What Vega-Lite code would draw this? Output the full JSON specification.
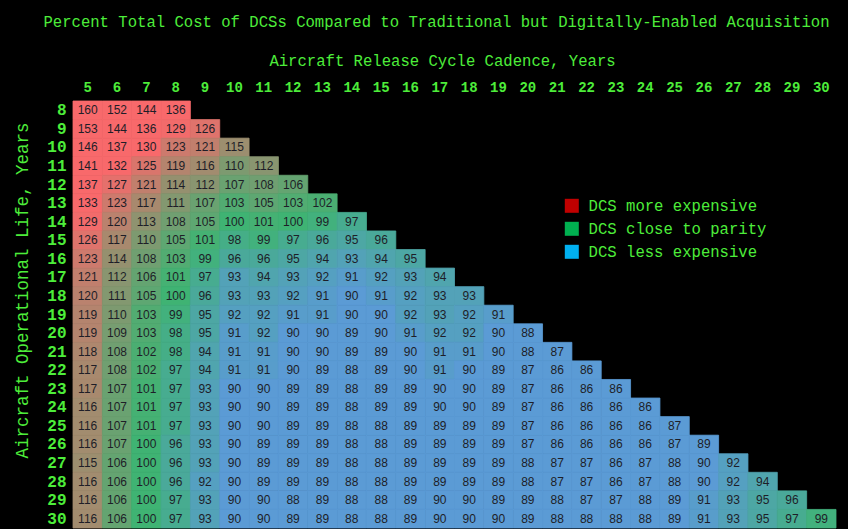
{
  "$schema": "https://vega.github.io/schema/vega-lite/v6.json",
  "width": 763,
  "height": 427,
  "autosize": "none",
  "padding": {"left": 73, "top": 101, "right": 12, "bottom": 1},
  "background": "#000000",
  "title": {
    "text": "Percent Total Cost of DCSs Compared to Traditional but Digitally-Enabled Acquisition",
    "font": "Liberation Mono",
    "fontSize": 15.6,
    "fontWeight": "normal",
    "color": "#4ded3a",
    "anchor": "middle",
    "frame": "group",
    "dx": -18,
    "offset": 22
  },
  "config": {
    "view": {"stroke": null},
    "axis": {"grid": false, "domain": false, "ticks": false}
  },
  "datasets": {
    "legendItems": [
      {"category": "DCS more expensive"},
      {"category": "DCS close to parity"},
      {"category": "DCS less expensive"}
    ]
  },
  "data": {
    "values": [
      {"life": 8, "cad": 5, "pct": 160}, {"life": 8, "cad": 6, "pct": 152}, {"life": 8, "cad": 7, "pct": 144}, {"life": 8, "cad": 8, "pct": 136},
      {"life": 9, "cad": 5, "pct": 153}, {"life": 9, "cad": 6, "pct": 144}, {"life": 9, "cad": 7, "pct": 136}, {"life": 9, "cad": 8, "pct": 129}, {"life": 9, "cad": 9, "pct": 126},
      {"life": 10, "cad": 5, "pct": 146}, {"life": 10, "cad": 6, "pct": 137}, {"life": 10, "cad": 7, "pct": 130}, {"life": 10, "cad": 8, "pct": 123}, {"life": 10, "cad": 9, "pct": 121}, {"life": 10, "cad": 10, "pct": 115},
      {"life": 11, "cad": 5, "pct": 141}, {"life": 11, "cad": 6, "pct": 132}, {"life": 11, "cad": 7, "pct": 125}, {"life": 11, "cad": 8, "pct": 119}, {"life": 11, "cad": 9, "pct": 116}, {"life": 11, "cad": 10, "pct": 110}, {"life": 11, "cad": 11, "pct": 112},
      {"life": 12, "cad": 5, "pct": 137}, {"life": 12, "cad": 6, "pct": 127}, {"life": 12, "cad": 7, "pct": 121}, {"life": 12, "cad": 8, "pct": 114}, {"life": 12, "cad": 9, "pct": 112}, {"life": 12, "cad": 10, "pct": 107}, {"life": 12, "cad": 11, "pct": 108}, {"life": 12, "cad": 12, "pct": 106},
      {"life": 13, "cad": 5, "pct": 133}, {"life": 13, "cad": 6, "pct": 123}, {"life": 13, "cad": 7, "pct": 117}, {"life": 13, "cad": 8, "pct": 111}, {"life": 13, "cad": 9, "pct": 107}, {"life": 13, "cad": 10, "pct": 103}, {"life": 13, "cad": 11, "pct": 105}, {"life": 13, "cad": 12, "pct": 103}, {"life": 13, "cad": 13, "pct": 102},
      {"life": 14, "cad": 5, "pct": 129}, {"life": 14, "cad": 6, "pct": 120}, {"life": 14, "cad": 7, "pct": 113}, {"life": 14, "cad": 8, "pct": 108}, {"life": 14, "cad": 9, "pct": 105}, {"life": 14, "cad": 10, "pct": 100}, {"life": 14, "cad": 11, "pct": 101}, {"life": 14, "cad": 12, "pct": 100}, {"life": 14, "cad": 13, "pct": 99}, {"life": 14, "cad": 14, "pct": 97},
      {"life": 15, "cad": 5, "pct": 126}, {"life": 15, "cad": 6, "pct": 117}, {"life": 15, "cad": 7, "pct": 110}, {"life": 15, "cad": 8, "pct": 105}, {"life": 15, "cad": 9, "pct": 101}, {"life": 15, "cad": 10, "pct": 98}, {"life": 15, "cad": 11, "pct": 99}, {"life": 15, "cad": 12, "pct": 97}, {"life": 15, "cad": 13, "pct": 96}, {"life": 15, "cad": 14, "pct": 95}, {"life": 15, "cad": 15, "pct": 96},
      {"life": 16, "cad": 5, "pct": 123}, {"life": 16, "cad": 6, "pct": 114}, {"life": 16, "cad": 7, "pct": 108}, {"life": 16, "cad": 8, "pct": 103}, {"life": 16, "cad": 9, "pct": 99}, {"life": 16, "cad": 10, "pct": 96}, {"life": 16, "cad": 11, "pct": 96}, {"life": 16, "cad": 12, "pct": 95}, {"life": 16, "cad": 13, "pct": 94}, {"life": 16, "cad": 14, "pct": 93}, {"life": 16, "cad": 15, "pct": 94}, {"life": 16, "cad": 16, "pct": 95},
      {"life": 17, "cad": 5, "pct": 121}, {"life": 17, "cad": 6, "pct": 112}, {"life": 17, "cad": 7, "pct": 106}, {"life": 17, "cad": 8, "pct": 101}, {"life": 17, "cad": 9, "pct": 97}, {"life": 17, "cad": 10, "pct": 93}, {"life": 17, "cad": 11, "pct": 94}, {"life": 17, "cad": 12, "pct": 93}, {"life": 17, "cad": 13, "pct": 92}, {"life": 17, "cad": 14, "pct": 91}, {"life": 17, "cad": 15, "pct": 92}, {"life": 17, "cad": 16, "pct": 93}, {"life": 17, "cad": 17, "pct": 94},
      {"life": 18, "cad": 5, "pct": 120}, {"life": 18, "cad": 6, "pct": 111}, {"life": 18, "cad": 7, "pct": 105}, {"life": 18, "cad": 8, "pct": 100}, {"life": 18, "cad": 9, "pct": 96}, {"life": 18, "cad": 10, "pct": 93}, {"life": 18, "cad": 11, "pct": 93}, {"life": 18, "cad": 12, "pct": 92}, {"life": 18, "cad": 13, "pct": 91}, {"life": 18, "cad": 14, "pct": 90}, {"life": 18, "cad": 15, "pct": 91}, {"life": 18, "cad": 16, "pct": 92}, {"life": 18, "cad": 17, "pct": 93}, {"life": 18, "cad": 18, "pct": 93},
      {"life": 19, "cad": 5, "pct": 119}, {"life": 19, "cad": 6, "pct": 110}, {"life": 19, "cad": 7, "pct": 103}, {"life": 19, "cad": 8, "pct": 99}, {"life": 19, "cad": 9, "pct": 95}, {"life": 19, "cad": 10, "pct": 92}, {"life": 19, "cad": 11, "pct": 92}, {"life": 19, "cad": 12, "pct": 91}, {"life": 19, "cad": 13, "pct": 91}, {"life": 19, "cad": 14, "pct": 90}, {"life": 19, "cad": 15, "pct": 90}, {"life": 19, "cad": 16, "pct": 92}, {"life": 19, "cad": 17, "pct": 93}, {"life": 19, "cad": 18, "pct": 92}, {"life": 19, "cad": 19, "pct": 91},
      {"life": 20, "cad": 5, "pct": 119}, {"life": 20, "cad": 6, "pct": 109}, {"life": 20, "cad": 7, "pct": 103}, {"life": 20, "cad": 8, "pct": 98}, {"life": 20, "cad": 9, "pct": 95}, {"life": 20, "cad": 10, "pct": 91}, {"life": 20, "cad": 11, "pct": 92}, {"life": 20, "cad": 12, "pct": 90}, {"life": 20, "cad": 13, "pct": 90}, {"life": 20, "cad": 14, "pct": 89}, {"life": 20, "cad": 15, "pct": 90}, {"life": 20, "cad": 16, "pct": 91}, {"life": 20, "cad": 17, "pct": 92}, {"life": 20, "cad": 18, "pct": 92}, {"life": 20, "cad": 19, "pct": 90}, {"life": 20, "cad": 20, "pct": 88},
      {"life": 21, "cad": 5, "pct": 118}, {"life": 21, "cad": 6, "pct": 108}, {"life": 21, "cad": 7, "pct": 102}, {"life": 21, "cad": 8, "pct": 98}, {"life": 21, "cad": 9, "pct": 94}, {"life": 21, "cad": 10, "pct": 91}, {"life": 21, "cad": 11, "pct": 91}, {"life": 21, "cad": 12, "pct": 90}, {"life": 21, "cad": 13, "pct": 90}, {"life": 21, "cad": 14, "pct": 89}, {"life": 21, "cad": 15, "pct": 89}, {"life": 21, "cad": 16, "pct": 90}, {"life": 21, "cad": 17, "pct": 91}, {"life": 21, "cad": 18, "pct": 91}, {"life": 21, "cad": 19, "pct": 90}, {"life": 21, "cad": 20, "pct": 88}, {"life": 21, "cad": 21, "pct": 87},
      {"life": 22, "cad": 5, "pct": 117}, {"life": 22, "cad": 6, "pct": 108}, {"life": 22, "cad": 7, "pct": 102}, {"life": 22, "cad": 8, "pct": 97}, {"life": 22, "cad": 9, "pct": 94}, {"life": 22, "cad": 10, "pct": 91}, {"life": 22, "cad": 11, "pct": 91}, {"life": 22, "cad": 12, "pct": 90}, {"life": 22, "cad": 13, "pct": 89}, {"life": 22, "cad": 14, "pct": 88}, {"life": 22, "cad": 15, "pct": 89}, {"life": 22, "cad": 16, "pct": 90}, {"life": 22, "cad": 17, "pct": 91}, {"life": 22, "cad": 18, "pct": 90}, {"life": 22, "cad": 19, "pct": 89}, {"life": 22, "cad": 20, "pct": 87}, {"life": 22, "cad": 21, "pct": 86}, {"life": 22, "cad": 22, "pct": 86},
      {"life": 23, "cad": 5, "pct": 117}, {"life": 23, "cad": 6, "pct": 107}, {"life": 23, "cad": 7, "pct": 101}, {"life": 23, "cad": 8, "pct": 97}, {"life": 23, "cad": 9, "pct": 93}, {"life": 23, "cad": 10, "pct": 90}, {"life": 23, "cad": 11, "pct": 90}, {"life": 23, "cad": 12, "pct": 89}, {"life": 23, "cad": 13, "pct": 89}, {"life": 23, "cad": 14, "pct": 88}, {"life": 23, "cad": 15, "pct": 89}, {"life": 23, "cad": 16, "pct": 89}, {"life": 23, "cad": 17, "pct": 90}, {"life": 23, "cad": 18, "pct": 90}, {"life": 23, "cad": 19, "pct": 89}, {"life": 23, "cad": 20, "pct": 87}, {"life": 23, "cad": 21, "pct": 86}, {"life": 23, "cad": 22, "pct": 86}, {"life": 23, "cad": 23, "pct": 86},
      {"life": 24, "cad": 5, "pct": 116}, {"life": 24, "cad": 6, "pct": 107}, {"life": 24, "cad": 7, "pct": 101}, {"life": 24, "cad": 8, "pct": 97}, {"life": 24, "cad": 9, "pct": 93}, {"life": 24, "cad": 10, "pct": 90}, {"life": 24, "cad": 11, "pct": 90}, {"life": 24, "cad": 12, "pct": 89}, {"life": 24, "cad": 13, "pct": 89}, {"life": 24, "cad": 14, "pct": 88}, {"life": 24, "cad": 15, "pct": 89}, {"life": 24, "cad": 16, "pct": 89}, {"life": 24, "cad": 17, "pct": 90}, {"life": 24, "cad": 18, "pct": 90}, {"life": 24, "cad": 19, "pct": 89}, {"life": 24, "cad": 20, "pct": 87}, {"life": 24, "cad": 21, "pct": 86}, {"life": 24, "cad": 22, "pct": 86}, {"life": 24, "cad": 23, "pct": 86}, {"life": 24, "cad": 24, "pct": 86},
      {"life": 25, "cad": 5, "pct": 116}, {"life": 25, "cad": 6, "pct": 107}, {"life": 25, "cad": 7, "pct": 101}, {"life": 25, "cad": 8, "pct": 97}, {"life": 25, "cad": 9, "pct": 93}, {"life": 25, "cad": 10, "pct": 90}, {"life": 25, "cad": 11, "pct": 90}, {"life": 25, "cad": 12, "pct": 89}, {"life": 25, "cad": 13, "pct": 89}, {"life": 25, "cad": 14, "pct": 88}, {"life": 25, "cad": 15, "pct": 88}, {"life": 25, "cad": 16, "pct": 89}, {"life": 25, "cad": 17, "pct": 89}, {"life": 25, "cad": 18, "pct": 89}, {"life": 25, "cad": 19, "pct": 89}, {"life": 25, "cad": 20, "pct": 87}, {"life": 25, "cad": 21, "pct": 86}, {"life": 25, "cad": 22, "pct": 86}, {"life": 25, "cad": 23, "pct": 86}, {"life": 25, "cad": 24, "pct": 86}, {"life": 25, "cad": 25, "pct": 87},
      {"life": 26, "cad": 5, "pct": 116}, {"life": 26, "cad": 6, "pct": 107}, {"life": 26, "cad": 7, "pct": 100}, {"life": 26, "cad": 8, "pct": 96}, {"life": 26, "cad": 9, "pct": 93}, {"life": 26, "cad": 10, "pct": 90}, {"life": 26, "cad": 11, "pct": 89}, {"life": 26, "cad": 12, "pct": 89}, {"life": 26, "cad": 13, "pct": 89}, {"life": 26, "cad": 14, "pct": 88}, {"life": 26, "cad": 15, "pct": 88}, {"life": 26, "cad": 16, "pct": 89}, {"life": 26, "cad": 17, "pct": 89}, {"life": 26, "cad": 18, "pct": 89}, {"life": 26, "cad": 19, "pct": 89}, {"life": 26, "cad": 20, "pct": 87}, {"life": 26, "cad": 21, "pct": 86}, {"life": 26, "cad": 22, "pct": 86}, {"life": 26, "cad": 23, "pct": 86}, {"life": 26, "cad": 24, "pct": 86}, {"life": 26, "cad": 25, "pct": 87}, {"life": 26, "cad": 26, "pct": 89},
      {"life": 27, "cad": 5, "pct": 115}, {"life": 27, "cad": 6, "pct": 106}, {"life": 27, "cad": 7, "pct": 100}, {"life": 27, "cad": 8, "pct": 96}, {"life": 27, "cad": 9, "pct": 93}, {"life": 27, "cad": 10, "pct": 90}, {"life": 27, "cad": 11, "pct": 89}, {"life": 27, "cad": 12, "pct": 89}, {"life": 27, "cad": 13, "pct": 89}, {"life": 27, "cad": 14, "pct": 88}, {"life": 27, "cad": 15, "pct": 88}, {"life": 27, "cad": 16, "pct": 89}, {"life": 27, "cad": 17, "pct": 89}, {"life": 27, "cad": 18, "pct": 89}, {"life": 27, "cad": 19, "pct": 89}, {"life": 27, "cad": 20, "pct": 88}, {"life": 27, "cad": 21, "pct": 87}, {"life": 27, "cad": 22, "pct": 87}, {"life": 27, "cad": 23, "pct": 86}, {"life": 27, "cad": 24, "pct": 87}, {"life": 27, "cad": 25, "pct": 88}, {"life": 27, "cad": 26, "pct": 90}, {"life": 27, "cad": 27, "pct": 92},
      {"life": 28, "cad": 5, "pct": 116}, {"life": 28, "cad": 6, "pct": 106}, {"life": 28, "cad": 7, "pct": 100}, {"life": 28, "cad": 8, "pct": 96}, {"life": 28, "cad": 9, "pct": 92}, {"life": 28, "cad": 10, "pct": 90}, {"life": 28, "cad": 11, "pct": 89}, {"life": 28, "cad": 12, "pct": 89}, {"life": 28, "cad": 13, "pct": 89}, {"life": 28, "cad": 14, "pct": 88}, {"life": 28, "cad": 15, "pct": 88}, {"life": 28, "cad": 16, "pct": 89}, {"life": 28, "cad": 17, "pct": 89}, {"life": 28, "cad": 18, "pct": 89}, {"life": 28, "cad": 19, "pct": 89}, {"life": 28, "cad": 20, "pct": 88}, {"life": 28, "cad": 21, "pct": 87}, {"life": 28, "cad": 22, "pct": 87}, {"life": 28, "cad": 23, "pct": 86}, {"life": 28, "cad": 24, "pct": 87}, {"life": 28, "cad": 25, "pct": 88}, {"life": 28, "cad": 26, "pct": 90}, {"life": 28, "cad": 27, "pct": 92}, {"life": 28, "cad": 28, "pct": 94},
      {"life": 29, "cad": 5, "pct": 116}, {"life": 29, "cad": 6, "pct": 106}, {"life": 29, "cad": 7, "pct": 100}, {"life": 29, "cad": 8, "pct": 97}, {"life": 29, "cad": 9, "pct": 93}, {"life": 29, "cad": 10, "pct": 90}, {"life": 29, "cad": 11, "pct": 90}, {"life": 29, "cad": 12, "pct": 88}, {"life": 29, "cad": 13, "pct": 89}, {"life": 29, "cad": 14, "pct": 88}, {"life": 29, "cad": 15, "pct": 88}, {"life": 29, "cad": 16, "pct": 89}, {"life": 29, "cad": 17, "pct": 90}, {"life": 29, "cad": 18, "pct": 90}, {"life": 29, "cad": 19, "pct": 89}, {"life": 29, "cad": 20, "pct": 89}, {"life": 29, "cad": 21, "pct": 88}, {"life": 29, "cad": 22, "pct": 87}, {"life": 29, "cad": 23, "pct": 87}, {"life": 29, "cad": 24, "pct": 88}, {"life": 29, "cad": 25, "pct": 89}, {"life": 29, "cad": 26, "pct": 91}, {"life": 29, "cad": 27, "pct": 93}, {"life": 29, "cad": 28, "pct": 95}, {"life": 29, "cad": 29, "pct": 96},
      {"life": 30, "cad": 5, "pct": 116}, {"life": 30, "cad": 6, "pct": 106}, {"life": 30, "cad": 7, "pct": 100}, {"life": 30, "cad": 8, "pct": 97}, {"life": 30, "cad": 9, "pct": 93}, {"life": 30, "cad": 10, "pct": 90}, {"life": 30, "cad": 11, "pct": 90}, {"life": 30, "cad": 12, "pct": 89}, {"life": 30, "cad": 13, "pct": 89}, {"life": 30, "cad": 14, "pct": 88}, {"life": 30, "cad": 15, "pct": 88}, {"life": 30, "cad": 16, "pct": 89}, {"life": 30, "cad": 17, "pct": 90}, {"life": 30, "cad": 18, "pct": 90}, {"life": 30, "cad": 19, "pct": 90}, {"life": 30, "cad": 20, "pct": 89}, {"life": 30, "cad": 21, "pct": 88}, {"life": 30, "cad": 22, "pct": 88}, {"life": 30, "cad": 23, "pct": 88}, {"life": 30, "cad": 24, "pct": 88}, {"life": 30, "cad": 25, "pct": 89}, {"life": 30, "cad": 26, "pct": 91}, {"life": 30, "cad": 27, "pct": 93}, {"life": 30, "cad": 28, "pct": 95}, {"life": 30, "cad": 29, "pct": 97}, {"life": 30, "cad": 30, "pct": 99}
    ]
  },
  "encoding": {
    "x": {
      "field": "cad",
      "type": "ordinal",
      "sort": "ascending",
      "scale": {"domain": [5,6,7,8,9,10,11,12,13,14,15,16,17,18,19,20,21,22,23,24,25,26,27,28,29,30], "paddingInner": 0, "paddingOuter": 0},
      "axis": {
        "orient": "top",
        "labelAngle": 0,
        "labelFont": "Liberation Mono",
        "labelFontSize": 14,
        "labelFontWeight": "bold",
        "labelColor": "#4ded3a",
        "labelPadding": 7,
        "title": "Aircraft Release Cycle Cadence, Years",
        "titleFont": "Liberation Mono",
        "titleFontSize": 15.6,
        "titleFontWeight": "normal",
        "titleColor": "#4ded3a",
        "titleX": 369,
        "titleY": -41,
        "titleBaseline": "middle"
      }
    },
    "y": {
      "field": "life",
      "type": "ordinal",
      "sort": "ascending",
      "scale": {"paddingInner": 0, "paddingOuter": 0},
      "axis": {
        "labelFont": "Liberation Mono",
        "labelFontSize": 16,
        "labelFontWeight": "bold",
        "labelColor": "#4ded3a",
        "labelPadding": 7,
        "title": "Aircraft Operational Life, Years",
        "titleFont": "Liberation Mono",
        "titleFontSize": 17.5,
        "titleFontWeight": "normal",
        "titleColor": "#4ded3a",
        "titleX": -51,
        "titleY": 189,
        "titleAngle": -90,
        "titleBaseline": "middle"
      }
    }
  },
  "layer": [
    {
      "mark": {"type": "rect", "strokeWidth": 0.8},
      "encoding": {
        "color": {
          "field": "pct",
          "type": "quantitative",
          "scale": {"domain": [90, 100, 130], "range": ["#5b9bd5", "#3fb373", "#f8696b"], "interpolate": "rgb", "clamp": true},
          "legend": null
        },
        "stroke": {
          "field": "pct",
          "type": "quantitative",
          "scale": {"domain": [90, 100, 130], "range": ["#5b9bd5", "#3fb373", "#f8696b"], "interpolate": "rgb", "clamp": true},
          "legend": null
        }
      }
    },
    {
      "mark": {"type": "text", "font": "Liberation Sans Narrow, Liberation Sans", "fontSize": 12, "color": "#1e1e28", "baseline": "middle", "align": "center"},
      "encoding": {"text": {"field": "pct", "type": "quantitative"}}
    },
    {
      "data": {"name": "legendItems"},
      "mark": {"type": "square", "opacity": 0},
      "encoding": {
        "x": {"value": 0},
        "y": {"value": 0},
        "color": {
          "field": "category",
          "type": "nominal",
          "scale": {"domain": ["DCS more expensive", "DCS close to parity", "DCS less expensive"], "range": ["#c00000", "#00b050", "#00b0f0"]},
          "legend": {
            "orient": "none",
            "legendX": 491,
            "legendY": 97,
            "title": null,
            "padding": 0,
            "symbolType": "square",
            "symbolSize": 196,
            "symbolOpacity": 1,
            "symbolStrokeWidth": 0,
            "labelFont": "Liberation Mono",
            "labelFontSize": 15.6,
            "labelColor": "#4ded3a",
            "labelOffset": 9,
            "labelLimit": 0,
            "rowPadding": 6
          }
        }
      }
    }
  ],
  "resolve": {"scale": {"color": "independent", "stroke": "independent"}}
}
